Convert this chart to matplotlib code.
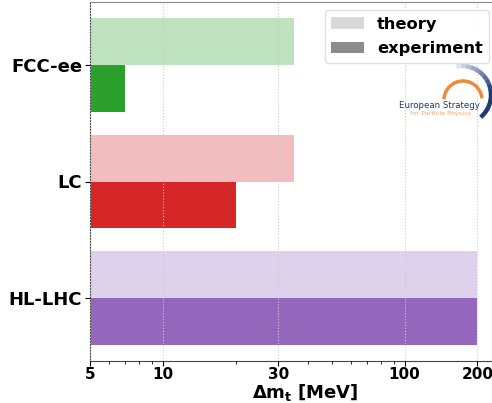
import numpy as np
import matplotlib.pyplot as plt
from matplotlib.patches import Patch, Arc
from matplotlib.colors import to_rgb
from matplotlib.ticker import FixedLocator, FixedFormatter, NullFormatter

colliders = ["HL-LHC", "LC", "FCC-ee"]
theory = [200, 35, 35]
experiment = [200, 20, 7]
colors = ["#9467bd", "#d62728", "#2ca02c"]
xticks = [5, 10, 30, 100, 200]

fig = plt.figure(figsize=(4.92, 4.03), dpi=100)
ax = fig.add_axes([90 / 492, 42 / 403, 430 / 492, 359 / 403])

y = np.arange(len(colliders))
h = 0.4
for i in range(len(colliders)):
    ax.barh(y[i] + h / 2, theory[i], height=h, left=0.001, color=colors[i], alpha=0.3, lw=0)
    ax.barh(y[i] - h / 2, experiment[i], height=h, left=0.001, color=colors[i], lw=0)

ax.set_xscale("log")
ax.set_xlim(5, 300)
ax.set_ylim(-0.54, 2.54)
ax.xaxis.set_major_locator(FixedLocator(xticks))
ax.xaxis.set_major_formatter(FixedFormatter([str(t) for t in xticks]))
ax.xaxis.set_minor_formatter(NullFormatter())
ax.set_yticks(y)
ax.set_yticklabels(colliders, fontsize=13, fontweight="bold")
ax.tick_params(axis="y", pad=2)
ax.tick_params(axis="x", pad=0.5)
for lab in ax.get_xticklabels():
    lab.set_fontsize(11)
    lab.set_fontweight("bold")
ax.set_xlabel(r"$\mathbf{\Delta m_t}$ [MeV]", fontsize=13, fontweight="bold", labelpad=0)
ax.grid(axis="x", which="major", color="#cccccc", ls=":", lw=0.8, zorder=5)
ax.set_axisbelow(False)
ax.spines["right"].set_visible(False)
ax.spines["top"].set_color("#888888")
ax.spines["left"].set_color("#444444")
ax.spines["bottom"].set_color("#444444")

handles = [Patch(color="gray", alpha=0.3, lw=0), Patch(color="gray", alpha=0.9, lw=0)]
fig.legend(handles, ["theory", "experiment"], loc="upper right",
           bbox_to_anchor=(489 / 492, 1 - 10 / 403), bbox_transform=fig.transFigure,
           prop={"size": 11.7, "weight": "bold"}, framealpha=0.9, edgecolor="#dddddd",
           handlelength=2.0, handletextpad=0.8, borderpad=0.4, labelspacing=0.6,
           borderaxespad=0)

# ESPP logo, drawn in pixel coordinates
la = fig.add_axes([0, 0, 1, 1], facecolor="none")
la.set_xlim(0, 492)
la.set_ylim(0, 403)
la.axis("off")
cx, cy = 462, 403 - 95
dark = np.array(to_rgb("#1f3a73"))
light = np.array(to_rgb("#dde3ee"))
segs = np.linspace(100, -50, 16)
for k in range(len(segs) - 1):
    f = k / (len(segs) - 2)
    la.add_patch(Arc((cx, cy), 58, 58, theta1=segs[k + 1], theta2=segs[k] + 1,
                     color=light + (dark - light) * min(1, f * 1.6), lw=3.2))
la.add_patch(Arc((cx + 1, cy - 5), 38, 38, theta1=5, theta2=178, color="#f08a3a", lw=2.5))
la.text(439, 403 - 105, "European Strategy", color="#1f3a73", fontsize=6.2,
        ha="center", va="center")
la.text(441, 403 - 113, "for Particle Physics", color="#f5a46a", fontsize=4.6,
        ha="center", va="center")

fig.savefig("out.png", dpi=100)
